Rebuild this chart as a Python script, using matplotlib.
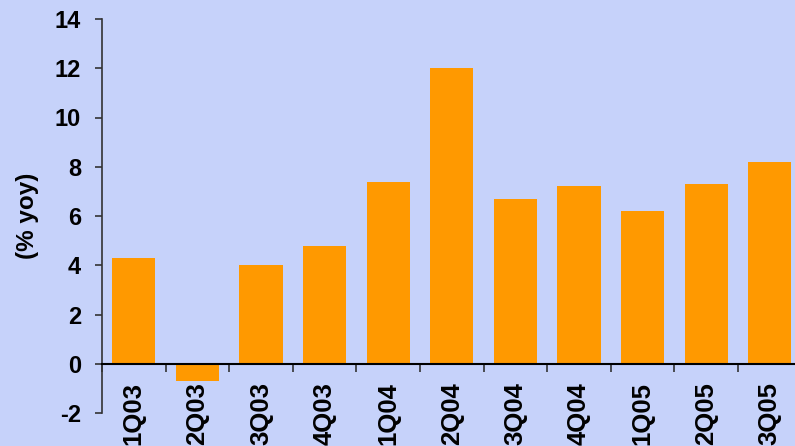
import numpy as np
import matplotlib
matplotlib.use("Agg")
import matplotlib.pyplot as plt

# ----------------------------
# Data
# ----------------------------
quarters = ["1Q03", "2Q03", "3Q03", "4Q03", "1Q04", "2Q04",
            "3Q04", "4Q04", "1Q05", "2Q05", "3Q05"]
growth_yoy = [4.3, -0.7, 4.0, 4.8, 7.4, 12.0, 6.7, 7.2, 6.2, 7.3, 8.2]
y_ticks = [-2, 0, 2, 4, 6, 8, 10, 12, 14]

bg = "#C6D2FA"
bar_color = "#FF9900"

plt.rcParams["font.family"] = ["Liberation Sans", "DejaVu Sans"]
plt.rcParams["font.weight"] = "bold"

W, H = 795, 446
fig = plt.figure(figsize=(W / 100, H / 100), dpi=100, facecolor=bg)
# axes box in pixels: x 102 -> ~802, y 19 -> 413
ax = fig.add_axes([102 / W, (H - 413) / H, (801.6 - 102) / W, (413 - 19) / H])
ax.set_facecolor(bg)

x = np.arange(len(quarters))
ax.bar(x, growth_yoy, width=0.68, color=bar_color, zorder=2)

ax.set_xlim(-0.5, len(quarters) - 0.5)
ax.set_ylim(-2, 14)
ax.set_yticks(y_ticks)
ax.set_yticklabels([str(v) for v in y_ticks], fontsize=17, fontweight="bold")

# x axis sits on zero
ax.spines["top"].set_visible(False)
ax.spines["right"].set_visible(False)
ax.spines["bottom"].set_position(("data", 0))
ax.spines["bottom"].set_linewidth(1.5)
ax.spines["bottom"].set_zorder(3)
ax.spines["left"].set_color("#333333")
ax.spines["left"].set_linewidth(1.2)

ax.set_xticks(x)
ax.set_xticklabels(quarters, rotation=90, fontsize=18.5, fontweight="bold",
                   va="top", ha="center")
ax.set_xticks(np.arange(len(quarters) + 1) - 0.5, minor=True)
ax.tick_params(axis="x", which="major", length=0, pad=13)
ax.tick_params(axis="x", which="minor", length=6, width=1.2, color="#333333",
               direction="out")
ax.tick_params(axis="y", length=5, width=1.2, color="#333333", pad=10)

ax.set_ylabel("(% yoy)", fontsize=17.5, fontweight="bold")
ax.yaxis.set_label_coords(-0.09, 0.5)

fig.savefig("out.png", dpi=100, facecolor=bg)
